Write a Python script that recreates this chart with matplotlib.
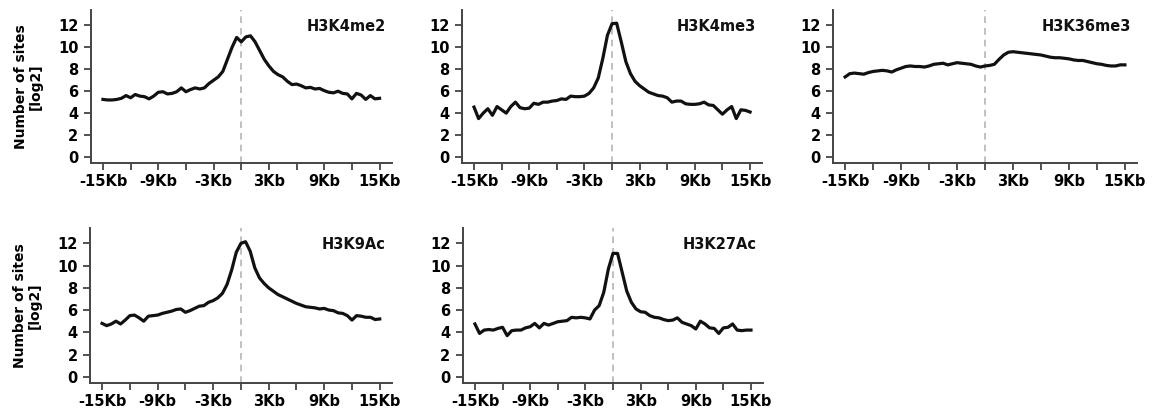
import matplotlib
matplotlib.use("Agg")
import matplotlib.pyplot as plt
import numpy as np

# distance to site in Kb, one sample every 0.5 Kb
POS_KB = np.arange(-15, 15.5, 0.5)

H3K4ME2 = [5.25, 5.2, 5.2, 5.25, 5.35, 5.6, 5.4, 5.7, 5.55, 5.5, 5.3, 5.55, 5.9, 5.95, 5.75,
           5.8, 5.95, 6.3, 5.95, 6.15, 6.3, 6.2, 6.3, 6.7, 7.0, 7.3, 7.8, 8.9, 10.0, 10.9,
           10.5, 10.95, 11.05, 10.5, 9.7, 8.9, 8.3, 7.8, 7.5, 7.3, 6.9, 6.6, 6.65, 6.5, 6.3,
           6.35, 6.2, 6.25, 6.05, 5.9, 5.85, 6.0, 5.8, 5.75, 5.3, 5.8, 5.65, 5.25, 5.6, 5.3, 5.35]
H3K4ME3 = [4.55, 3.5, 4.0, 4.4, 3.8, 4.6, 4.3, 4.0, 4.6, 5.0, 4.5, 4.4, 4.45, 4.9, 4.8,
           5.0, 5.0, 5.1, 5.15, 5.3, 5.25, 5.55, 5.5, 5.5, 5.55, 5.8, 6.3, 7.2, 9.0, 11.1,
           12.15, 12.2, 10.5, 8.7, 7.6, 6.9, 6.5, 6.2, 5.9, 5.75, 5.6, 5.55, 5.4, 5.0, 5.1,
           5.1, 4.85, 4.8, 4.8, 4.85, 5.0, 4.75, 4.7, 4.3, 3.9, 4.3, 4.6, 3.5, 4.3, 4.25, 4.1]
H3K36ME3 = [7.3, 7.6, 7.65, 7.6, 7.55, 7.7, 7.8, 7.85, 7.9, 7.85, 7.75, 7.95, 8.1, 8.25, 8.3,
            8.25, 8.25, 8.2, 8.3, 8.45, 8.5, 8.55, 8.4, 8.5, 8.6, 8.55, 8.5, 8.45, 8.3, 8.2,
            8.3, 8.35, 8.45, 8.9, 9.3, 9.55, 9.6, 9.55, 9.5, 9.45, 9.4, 9.35, 9.3, 9.2, 9.1,
            9.05, 9.05, 9.0, 8.95, 8.85, 8.8, 8.8, 8.7, 8.6, 8.5, 8.45, 8.35, 8.3, 8.3, 8.4, 8.4]
H3K9AC = [4.8, 4.6, 4.75, 5.0, 4.75, 5.1, 5.5, 5.55, 5.3, 5.0, 5.45, 5.5, 5.55, 5.7, 5.8,
          5.9, 6.05, 6.1, 5.8, 5.95, 6.15, 6.35, 6.4, 6.7, 6.85, 7.1, 7.5, 8.3, 9.6, 11.2,
          12.0, 12.15, 11.3, 9.8, 8.9, 8.4, 8.0, 7.7, 7.4, 7.2, 7.0, 6.8, 6.6, 6.45, 6.3,
          6.25, 6.2, 6.1, 6.15, 6.0, 5.95, 5.75, 5.7, 5.5, 5.1, 5.5, 5.45, 5.35, 5.35, 5.15, 5.2]
H3K27AC = [4.75, 3.9, 4.2, 4.25, 4.2, 4.35, 4.45, 3.7, 4.15, 4.2, 4.2, 4.4, 4.5, 4.8, 4.4,
           4.8, 4.65, 4.8, 4.95, 5.0, 5.05, 5.35, 5.3, 5.35, 5.3, 5.2, 6.0, 6.4, 7.6, 9.7,
           11.1, 11.1, 9.4, 7.7, 6.7, 6.1, 5.85, 5.8, 5.5, 5.35, 5.3, 5.15, 5.05, 5.1, 5.3,
           4.9, 4.75, 4.6, 4.3, 5.0, 4.75, 4.4, 4.35, 3.9, 4.4, 4.45, 4.75, 4.2, 4.15, 4.2, 4.2]

MARKS = ["H3K4me2", "H3K4me3", "H3K36me3", "H3K9Ac", "H3K27Ac"]
SERIES = [H3K4ME2, H3K4ME3, H3K36ME3, H3K9AC, H3K27AC]

X_TICKS = [-15, -12, -9, -6, -3, 0, 3, 6, 9, 12, 15]
X_LABELS = ["-15Kb", "", "-9Kb", "", "-3Kb", "", "3Kb", "", "9Kb", "", "15Kb"]
Y_TICKS = [0, 2, 4, 6, 8, 10, 12]

plt.rcParams["font.family"] = "DejaVu Sans"
plt.rcParams["font.weight"] = "bold"

fig = plt.figure(figsize=(11.56, 4.18), dpi=100)

# axes boxes in figure fractions: (left, bottom, width, height)
boxes = [
    (0.0787, 0.610, 0.260, 0.366),
    (0.3997, 0.610, 0.2595, 0.366),
    (0.7206, 0.610, 0.263, 0.366),
    (0.0779, 0.084, 0.261, 0.371),
    (0.4005, 0.084, 0.2595, 0.371),
]

for i, (mark, values, box) in enumerate(zip(MARKS, SERIES, boxes)):
    ax = fig.add_axes(box)
    ax.axvline(0, color="#b5b5b5", lw=1.2, ls=(0, (4, 3)), zorder=1)
    ax.plot(POS_KB, values, color="#111111", lw=2.3, solid_joinstyle="round", zorder=3)
    ax.set_xlim(-16.3, 16.3)
    ax.set_ylim(-0.55, 13.4)
    ax.set_xticks(X_TICKS)
    ax.set_xticklabels(X_LABELS)
    ax.set_yticks(Y_TICKS)
    for side in ("top", "right"):
        ax.spines[side].set_visible(False)
    for side in ("left", "bottom"):
        ax.spines[side].set_linewidth(1.4)
        ax.spines[side].set_color("#444444")
    ax.tick_params(axis="both", length=5, width=1.3, color="#444444", labelsize=10.5)
    ax.tick_params(axis="x", pad=3)
    ax.tick_params(axis="y", pad=4)
    for lbl in ax.get_xticklabels() + ax.get_yticklabels():
        lbl.set_fontweight("bold")
    ax.text(0.98, 0.89, mark, transform=ax.transAxes, ha="right", va="center",
            fontsize=10.5, fontweight="bold", color="#111111")
    if i in (0, 3):
        ax.set_ylabel("Number of sites\n[log2]", fontsize=10, fontweight="bold",
                      linespacing=1.1)
        ax.yaxis.set_label_coords(-0.16, 0.5)

fig.savefig("out.png", dpi=100)
